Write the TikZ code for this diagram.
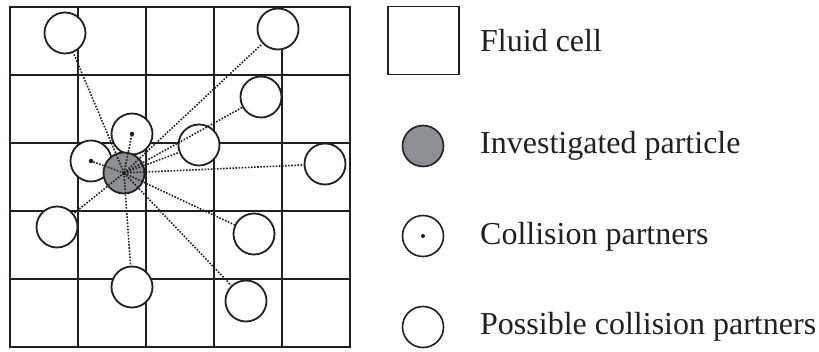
\documentclass[tikz,border=0pt]{standalone}
\usepackage{fontspec}
\setmainfont{Liberation Serif}
\definecolor{partgray}{RGB}{141,143,146}
\definecolor{inkc}{RGB}{35,31,32}
\tikzset{
  gridline/.style={draw=inkc, line width=1.3pt},
  frame/.style={draw=inkc, line width=2.6pt},
  partner/.style={circle, draw=inkc, line width=1.8pt, fill=white, minimum size=41pt, inner sep=0pt},
  invest/.style={partner, fill=partgray},
  link/.style={draw=inkc, line width=1.6pt, dash pattern=on 1.6pt off 1.5pt},
  cdot/.style={circle, fill=inkc, inner sep=0pt, minimum size=4.5pt},
  legtext/.style={anchor=base west, text=inkc, font=\fontsize{32}{38}\selectfont, inner sep=0pt},
}
\begin{document}
\begin{tikzpicture}[x=1pt,y=-1pt]
\useasboundingbox (0,0) rectangle (819,352);
% grid
\foreach \i in {78,146,214,282} {
  \draw[gridline] (\i,7) -- (\i,347);
  \draw[gridline] (10,\i-3) -- (350,\i-3);
}
\draw[frame] (10,7) rectangle (350,347);
% possible collision partners
\node[partner] (p1) at (65,33) {};
\node[partner] (p2) at (278,29) {};
\node[partner] (p3) at (261,97) {};
\node[partner] (p6) at (199,145) {};
\node[partner] (p7) at (325,164) {};
\node[partner] (p9) at (57,227) {};
\node[partner] (p10) at (254,234) {};
\node[partner] (p11) at (132,287) {};
\node[partner] (p12) at (246,301) {};
% collision partners
\node[partner] (c4) at (132,134) {};
\node[partner] (c5) at (91,161) {};
% investigated particle
\node[invest] (g) at (124,173) {};
% links
\foreach \n in {p1,p2,p3,p6,p7,p9,p10,p11,p12} {
  \draw[link] (g.center) -- (\n);
}
\draw[link] (g.center) -- (c4.center);
\draw[link] (g.center) -- (c5.center);
\node[cdot] (d4) at (c4.center) {};
\node[cdot] (d5) at (c5.center) {};
\node[cdot] (dg) at (g.center) {};
% legend
\node[draw=inkc, line width=1.3pt, minimum width=71pt, minimum height=68pt, inner sep=0pt] (lcell) at (423.5,40.5) {};
\node[legtext] (tcell) at (480,52) {Fluid cell};
\node[invest, line width=1.6pt] (linv) at (423,146) {};
\node[legtext] (tinv) at (480,154) {Investigated particle};
\node[partner, line width=1.6pt] (lcol) at (423,236) {};
\node[cdot, minimum size=4pt] (lcold) at (lcol.center) {};
\node[legtext] (tcol) at (480,245) {Collision partners};
\node[partner, line width=1.6pt] (lpos) at (423,327) {};
\node[legtext] (tpos) at (480,335) {Possible collision partners};
\end{tikzpicture}
\end{document}
